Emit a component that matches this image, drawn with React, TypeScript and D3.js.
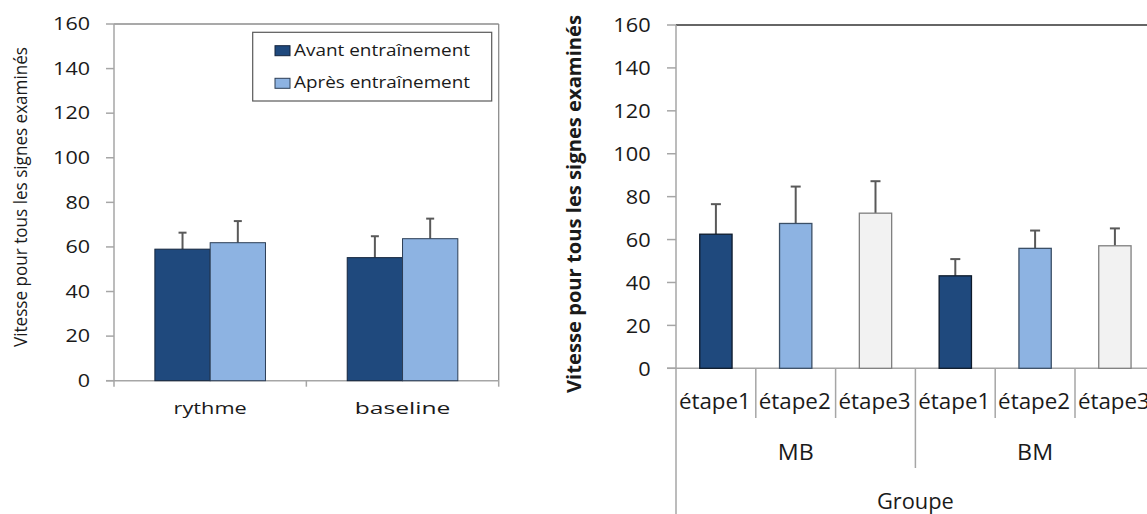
import React from "react";
import * as d3 from "d3";

// ---------- Data ----------
const yTickValues = [0, 20, 40, 60, 80, 100, 120, 140, 160];

// Left chart
const leftCategories = ["rythme", "baseline"];
const leftSeries = ["Avant entraînement", "Après entraînement"];
const avantValues = [59.0, 55.2];
const avantErrors = [7.4, 9.6];
const apresValues = [61.9, 63.7];
const apresErrors = [9.7, 9.0];

// Right chart
const groups = ["MB", "BM"];
const stages = ["étape1", "étape2", "étape3"];
const mbValues = [62.5, 67.5, 72.3];
const mbErrors = [14.0, 17.2, 14.9];
const bmValues = [43.1, 55.9, 57.1];
const bmErrors = [7.8, 8.3, 8.1];

const yTitle = "Vitesse pour tous les signes examinés";
const xTitleRight = "Groupe";

// ---------- Styles ----------
const DARK = "#1F497D";
const LIGHT = "#8DB3E2";
const PALE = "#F2F2F2";
const AXIS = "#A6A6A6";
const TEXT = "#1a1a1a";
const ERR = "#595959";
const FONT = "'Open Sans', sans-serif";

function SText({ x, y, len, anchor = "middle", size, weight = 400, children, fill = TEXT }: any) {
  return (
    <text
      x={x}
      y={y}
      textAnchor={anchor}
      fontSize={size}
      fontWeight={weight}
      fontFamily={FONT}
      fill={fill}
      textLength={len}
      lengthAdjust="spacingAndGlyphs"
    >
      {children}
    </text>
  );
}

function LeftChart() {
  const x0 = 114, x1 = 498.7, yTop = 24, yBot = 380.7;
  const y = d3.scaleLinear().domain([0, 160]).range([yBot, yTop]);
  const xCat = d3.scaleBand().domain(leftCategories).range([x0, x1]);
  const groupW = 110.6;
  const xSer = d3.scaleBand().domain(leftSeries).range([0, groupW]);
  const series = [
    { name: leftSeries[0], values: avantValues, errors: avantErrors, fill: DARK, stroke: "#14253d" },
    { name: leftSeries[1], values: apresValues, errors: apresErrors, fill: LIGHT, stroke: "#2c3e55" },
  ];
  const boundaries = [x0, ...leftCategories.map((c) => (xCat(c) as number) + xCat.bandwidth())];
  return (
    <g>
      <line x1={x0} x2={x1} y1={yTop} y2={yTop} stroke="#8c8c8c" strokeWidth={1.3} />
      <line x1={x1} x2={x1} y1={yTop} y2={yBot} stroke="#8c8c8c" strokeWidth={1.3} />
      <line x1={x0} x2={x0} y1={yTop} y2={yBot} stroke={AXIS} strokeWidth={1.5} />
      {yTickValues.map((t) => (
        <g key={t}>
          <line x1={x0 - 8} x2={x0} y1={y(t)} y2={y(t)} stroke={AXIS} strokeWidth={1.5} />
          <SText x={90} y={y(t) + 6.3} anchor="end" size={17.5} len={String(t).length * 12.3}>
            {t}
          </SText>
        </g>
      ))}
      <line x1={x0 - 8} x2={x1} y1={yBot} y2={yBot} stroke={AXIS} strokeWidth={1.5} />
      {boundaries.map((b, i) => (
        <line key={i} x1={b} x2={b} y1={yBot} y2={yBot + 6} stroke={AXIS} strokeWidth={1.5} />
      ))}
      {series.map((s) =>
        leftCategories.map((c, i) => {
          const bx = (xCat(c) as number) + (xCat.bandwidth() - groupW) / 2 + (xSer(s.name) as number);
          const bw = xSer.bandwidth();
          const top = y(s.values[i]);
          const errTop = y(s.values[i] + s.errors[i]);
          const cx = bx + bw / 2;
          return (
            <g key={s.name + c}>
              <line x1={cx} x2={cx} y1={top} y2={errTop} stroke={ERR} strokeWidth={2} />
              <line x1={cx - 4} x2={cx + 4} y1={errTop} y2={errTop} stroke={ERR} strokeWidth={2} />
              <rect x={bx} y={top} width={bw} height={yBot - top} fill={s.fill} stroke={s.stroke} strokeWidth={1} />
            </g>
          );
        })
      )}
      {leftCategories.map((c) => (
        <SText key={c} x={(xCat(c) as number) + xCat.bandwidth() / 2} y={413.5} size={16.5} len={c.length * 11.2 + 6}>
          {c}
        </SText>
      ))}
      <text
        transform={`translate(27,197) rotate(-90)`}
        textAnchor="middle"
        fontSize={18}
        fontFamily={FONT}
        fill={TEXT}
        textLength={300}
        lengthAdjust="spacingAndGlyphs"
      >
        {yTitle}
      </text>
      <rect x={252.7} y={32.3} width={239} height={68.7} fill="#fff" stroke="#595959" strokeWidth={1.2} />
      {series.map((s, i) => (
        <g key={s.name}>
          <rect x={275} y={45.7 + i * 32.6} width={15} height={10} fill={s.fill} stroke={s.stroke} strokeWidth={1} />
          <SText x={294} y={55.8 + i * 32.6} anchor="start" size={16.5} len={176}>
            {s.name}
          </SText>
        </g>
      ))}
    </g>
  );
}

function RightChart() {
  const x0 = 676, x1 = 1154.8, yTop = 25, yBot = 368.3;
  const y = d3.scaleLinear().domain([0, 160]).range([yBot, yTop]);
  const cats = groups.flatMap((g) => stages.map((s) => ({ g, s, key: g + "|" + s })));
  const xCat = d3.scaleBand().domain(cats.map((c) => c.key)).range([x0, x1]);
  const xGroup = d3.scaleBand().domain(groups).range([x0, x1]);
  const bw = xCat.bandwidth() * 0.405;
  const fills = [DARK, LIGHT, PALE];
  const strokes = ["#0d1a2b", "#3b4f66", "#7f7f7f"];
  const valuesByGroup: Record<string, number[]> = { MB: mbValues, BM: bmValues };
  const errorsByGroup: Record<string, number[]> = { MB: mbErrors, BM: bmErrors };
  return (
    <g>
      <line x1={x0} x2={x1} y1={yTop} y2={yTop} stroke="#333" strokeWidth={1.3} />
      <line x1={x0} x2={x0} y1={yTop} y2={514} stroke={AXIS} strokeWidth={1.5} />
      {yTickValues.map((t) => (
        <g key={t}>
          <line x1={x0 - 9} x2={x0} y1={y(t)} y2={y(t)} stroke={AXIS} strokeWidth={1.5} />
          <SText x={650.7} y={y(t) + 7.2} anchor="end" size={20.5} len={String(t).length * 12.45}>
            {t}
          </SText>
        </g>
      ))}
      <line x1={x0 - 9} x2={x1} y1={yBot} y2={yBot} stroke={AXIS} strokeWidth={1.5} />
      {cats.slice(1).map((c) => {
        const bx = xCat(c.key) as number;
        const isGroup = c.s === stages[0];
        return (
          <line key={c.key} x1={bx} x2={bx} y1={yBot} y2={isGroup ? 468 : 418} stroke={AXIS} strokeWidth={1.5} />
        );
      })}
      {cats.map((c) => {
        const si = stages.indexOf(c.s);
        const v = valuesByGroup[c.g][si];
        const e = errorsByGroup[c.g][si];
        const cx = (xCat(c.key) as number) + xCat.bandwidth() / 2;
        const top = y(v);
        const errTop = y(v + e);
        return (
          <g key={c.key}>
            <line x1={cx} x2={cx} y1={top} y2={errTop} stroke={ERR} strokeWidth={2} />
            <line x1={cx - 5} x2={cx + 5} y1={errTop} y2={errTop} stroke={ERR} strokeWidth={2} />
            <rect
              x={cx - bw / 2}
              y={top}
              width={bw}
              height={yBot - top}
              fill={fills[si]}
              stroke={strokes[si]}
              strokeWidth={1.3}
            />
            <SText x={cx - 1} y={409.3} size={21.5} len={72}>
              {c.s}
            </SText>
          </g>
        );
      })}
      {groups.map((g) => (
        <SText key={g} x={(xGroup(g) as number) + xGroup.bandwidth() / 2} y={460} size={22} len={36}>
          {g}
        </SText>
      ))}
      <SText x={(x0 + x1) / 2} y={509} size={21} len={77}>
        {xTitleRight}
      </SText>
      <text
        transform={`translate(581,204) rotate(-90)`}
        textAnchor="middle"
        fontSize={20}
        fontWeight={700}
        fontFamily={FONT}
        fill={TEXT}
        textLength={378}
        lengthAdjust="spacingAndGlyphs"
      >
        {yTitle}
      </text>
    </g>
  );
}

export default function App() {
  return (
    <svg
      width={1147}
      height={514}
      style={{ position: "absolute", left: 0, top: 0, background: "#fff" }}
      viewBox="0 0 1147 514"
    >
      <rect width={1147} height={514} fill="#fff" />
      <LeftChart />
      <RightChart />
    </svg>
  );
}
